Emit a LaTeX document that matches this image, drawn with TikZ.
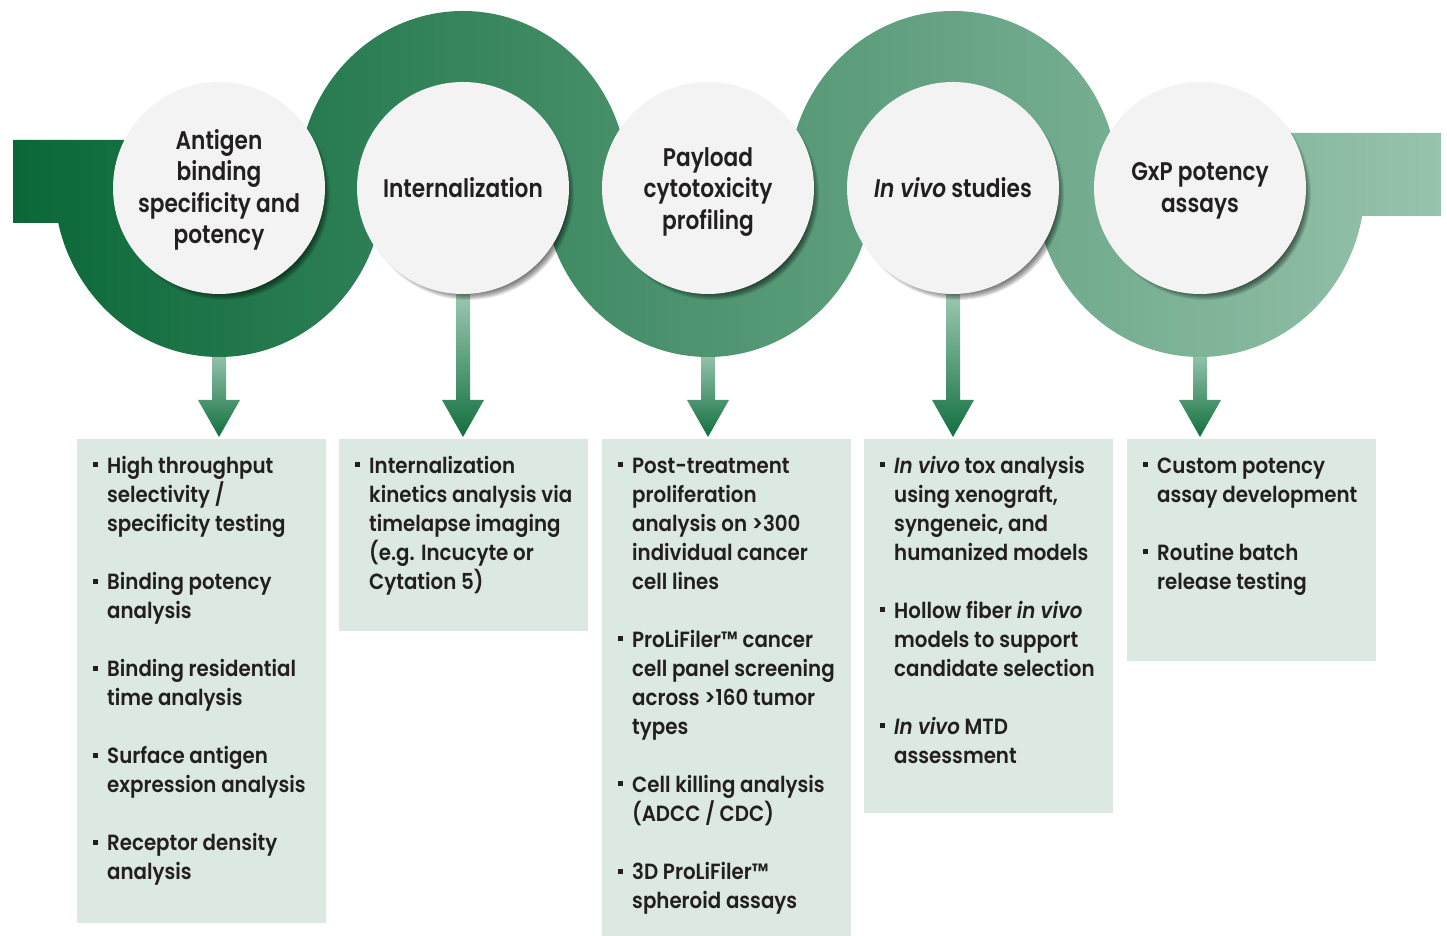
\documentclass[tikz,border=0pt]{standalone}
\usepackage{fontspec}
\setmainfont{Poppins}[UprightFont=* SemiBold, ItalicFont=* SemiBold Italic, FakeStretch=0.9]
\newfontfamily\circfont{Poppins}[UprightFont=* SemiBold, ItalicFont=* SemiBold Italic, FakeStretch=0.85]
\usetikzlibrary{calc}
\definecolor{txt}{HTML}{231F20}
\definecolor{gL}{HTML}{0A6838}
\definecolor{gR}{HTML}{97C3AC}
\definecolor{boxfill}{HTML}{DCE8E2}
\definecolor{circfill}{HTML}{F3F3F3}
\definecolor{arrTop}{HTML}{9CC8B2}
\definecolor{arrBot}{HTML}{12703F}
\pgfdeclarelayer{bg}
\pgfsetlayers{bg,main}
\newcommand\bul{\makebox[14pt][l]{\raisebox{6pt}{\rule{5pt}{5pt}}}}
\newcommand\stagearrow[3]{%
  \shade[top color=arrTop, bottom color=arrBot]
    ($(#1.south)+(-7,#3)$) -- ($(#1.south |- #2.north)+(-7,39)$)
    -- ($(#1.south |- #2.north)+(-21,39)$) -- ($(#1.south |- #2.north)+(0,2)$)
    -- ($(#1.south |- #2.north)+(21,39)$) -- ($(#1.south |- #2.north)+(7,39)$)
    -- ($(#1.south)+(7,#3)$) -- cycle;}
\begin{document}
\begin{tikzpicture}[x=1pt,y=1pt,
  stage/.style={circle, fill=circfill, minimum size=212pt, inner sep=0pt},
  stagetext/.style={align=center, inner sep=0pt, text=txt, font=\circfont\fontsize{25.5}{31.5}\selectfont},
  infobox/.style={fill=boxfill, inner sep=0pt, minimum width=249pt, anchor=north west},
  itemtext/.style={anchor=north west, inner sep=0pt, text=txt, font=\fontsize{22}{29}\selectfont},
  shadowring/.style={fill=black, opacity=0.09}
]
\useasboundingbox (0,0) rectangle (1447,936);

% circle shadows
\foreach \cx in {219,463,708,953,1200}{
  \foreach \k in {0,...,7}{
    \fill[shadowring] (\cx+5,742) circle (99+\k);
  }
}

% stage circles
\node[stage] (c1) at (219,748) {};
\node[stage] (c2) at (463,748) {};
\node[stage] (c3) at (708,748) {};
\node[stage] (c4) at (953,748) {};
\node[stage] (c5) at (1200,748) {};
\node[stagetext] (l1) at ($(c1)+(0,-2)$) {Antigen\\binding\\specificity and\\potency};
\node[stagetext] (l2) at ($(c2)+(0,0)$) {Internalization};
\node[stagetext] (l3) at ($(c3)+(0,-4)$) {Payload\\cytotoxicity\\profiling};
\node[stagetext] (l4) at ($(c4)+(0,0)$) {\textit{In vivo} studies};
\node[stagetext] (l5) at ($(c5)+(0,-3)$) {GxP potency\\assays};

% boxes
\node[infobox, minimum height=484pt] (b1) at (77,497) {};
\node[infobox, minimum height=192pt] (b2) at (339,497) {};
\node[infobox, minimum height=497pt] (b3) at (602,497) {};
\node[infobox, minimum height=374pt] (b4) at (864,497) {};
\node[infobox, minimum height=222pt] (b5) at (1127,497) {};

% box texts
\node[itemtext] (t1) at (93,483.3) {\begin{tabular}{@{}l@{}l@{}}
\bul & High throughput\\
 & selectivity /\\
 & specificity testing\\
 & \\
\bul & Binding potency\\
 & analysis\\
 & \\
\bul & Binding residential\\
 & time analysis\\
 & \\
\bul & Surface antigen\\
 & expression analysis\\
 & \\
\bul & Receptor density\\
 & analysis
\end{tabular}};
\node[itemtext] (t2) at (355,483.3) {\begin{tabular}{@{}l@{}l@{}}
\bul & Internalization\\
 & kinetics analysis via\\
 & timelapse imaging\\
 & (e.g. Incucyte or\\
 & Cytation 5)
\end{tabular}};
\node[itemtext] (t3) at (618,483.3) {\begin{tabular}{@{}l@{}l@{}}
\bul & Post-treatment\\
 & proliferation\\
 & analysis on >300\\
 & individual cancer\\
 & cell lines\\
 & \\
\bul & ProLiFiler™ cancer\\
 & cell panel screening\\
 & across >160 tumor\\
 & types\\
 & \\
\bul & Cell killing analysis\\
 & (ADCC / CDC)\\
 & \\
\bul & 3D ProLiFiler™\\
 & spheroid assays
\end{tabular}};
\node[itemtext] (t4) at (880,483.3) {\begin{tabular}{@{}l@{}l@{}}
\bul & \textit{In vivo} tox analysis\\
 & using xenograft,\\
 & syngeneic, and\\
 & humanized models\\
 & \\
\bul & Hollow fiber \textit{in vivo}\\
 & models to support\\
 & candidate selection\\
 & \\
\bul & \textit{In vivo} MTD\\
 & assessment
\end{tabular}};
\node[itemtext] (t5) at (1143,483.3) {\begin{tabular}{@{}l@{}l@{}}
\bul & Custom potency\\
 & assay development\\
 & \\
\bul & Routine batch\\
 & release testing
\end{tabular}};

\begin{pgfonlayer}{bg}
  \stagearrow{c1}{b1}{-56}
  \stagearrow{c2}{b2}{0}
  \stagearrow{c3}{b3}{-56}
  \stagearrow{c4}{b4}{0}
  \stagearrow{c5}{b5}{-56}
  % serpentine band
  \shade[left color=gL, right color=gR]
    (13,713) -- (150,713) -- (150,796) -- (13,796) -- cycle
    (1250,720) -- (1441,720) -- (1441,803) -- (1250,803) -- cycle
    (54,754) -- (54,752) arc[start angle=180, end angle=360, x radius=165, y radius=173] -- (384,754) -- cycle
    (543,754) -- (543,752) arc[start angle=180, end angle=360, x radius=165, y radius=173] -- (873,754) -- cycle
    (1035,754) -- (1035,752) arc[start angle=180, end angle=360, x radius=165, y radius=173] -- (1365,754) -- cycle
    (628,750) -- (628,752) arc[start angle=0, end angle=180, x radius=165, y radius=173] -- (298,750) -- cycle
    (1118,750) -- (1118,752) arc[start angle=0, end angle=180, x radius=165, y radius=173] -- (788,750) -- cycle;
\end{pgfonlayer}
\end{tikzpicture}
\end{document}
